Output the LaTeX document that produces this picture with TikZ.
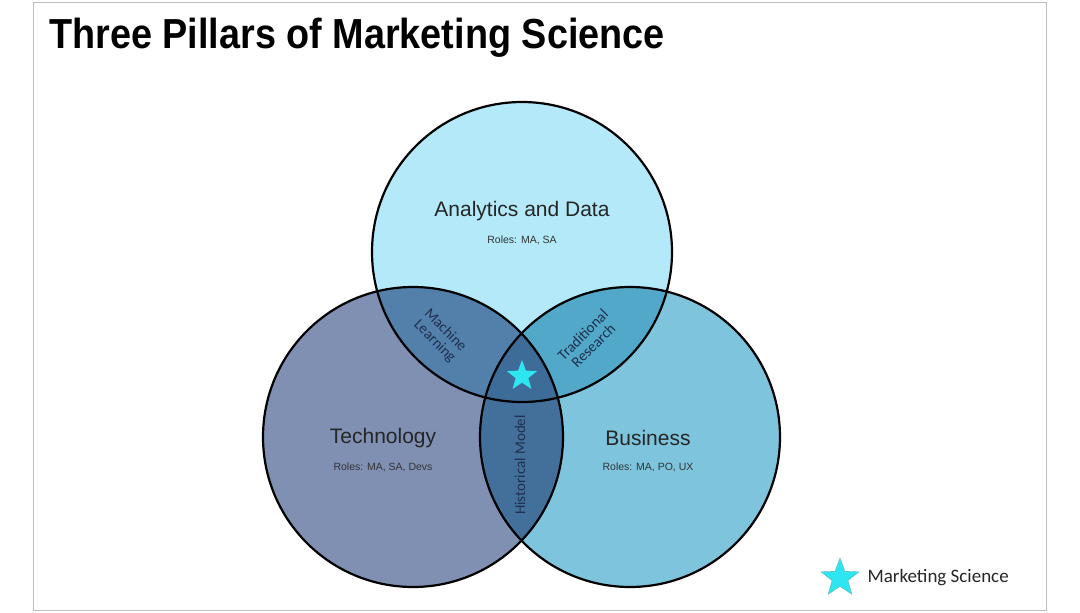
\documentclass[tikz,border=0pt]{standalone}
\usepackage{fontspec}
\setmainfont{Liberation Sans}
\newfontfamily\carlitofam{Carlito}
\usetikzlibrary{shapes.geometric}
\definecolor{cA}{HTML}{B3E9F9}
\definecolor{cT}{HTML}{8090B3}
\definecolor{cB}{HTML}{7EC4DD}
\definecolor{cAT}{HTML}{5380AB}
\definecolor{cAB}{HTML}{52A8C8}
\definecolor{cTB}{HTML}{43709B}
\definecolor{cC}{HTML}{3D6C98}
\definecolor{navy}{HTML}{1F2F4F}
\definecolor{starc}{HTML}{2EE6F0}
\tikzset{
 circ/.style={draw=black,line width=2.2pt},
 lbl/.style={font=\fontsize{21}{23}\selectfont, text=black!85},
 role/.style={font=\fontsize{10.5}{12}\selectfont, text=black!80},
 ov/.style={font=\carlitofam\fontsize{15}{15}\selectfont, text=navy, align=center},
}
\begin{document}
\begin{tikzpicture}[x=1pt,y=-1pt]
\useasboundingbox (0,0) rectangle (1080,613);
\fill[white] (0,0) rectangle (1080,613);
\draw[gray!50,line width=1pt] (33,2) rectangle (1046,610);
\node[anchor=west,font=\bfseries\fontsize{42}{44}\selectfont,xscale=0.9,transform shape] (title) at (46,38) {Three Pillars of Marketing Science};
\coordinate (A) at (522,252);
\coordinate (T) at (413,437);
\coordinate (B) at (630,437);
\fill[cA] (A) circle (150);
\fill[cT] (T) circle (150);
\fill[cB] (B) circle (150);
\begin{scope}\clip (A) circle (150); \fill[cAT] (T) circle (150); \fill[cAB] (B) circle (150);\end{scope}
\begin{scope}\clip (T) circle (150); \fill[cTB] (B) circle (150);
 \clip (B) circle (150); \fill[cC] (A) circle (150);\end{scope}
\draw[circ] (A) circle (150);
\draw[circ] (T) circle (150);
\draw[circ] (B) circle (150);
\node[lbl] (la) at (522,211) {Analytics and Data};
\node[role] (ra) at (522,240) {Roles: MA, SA};
\node[lbl] (lt) at (383,438) {Technology};
\node[role] (rt) at (383,467) {Roles: MA, SA, Devs};
\node[lbl] (lb) at (648,438) {Business};
\node[role] (rb) at (648,467) {Roles: MA, PO, UX};
\node[ov,rotate=-45] (ml) at (440,336) {Machine\\Learning};
\node[ov,rotate=45] (tr) at (588,340) {Traditional\\Research};
\node[ov,rotate=90] (hm) at (520,465) {Historical Model};
\node[star,star points=5,star point ratio=2.4,fill=starc,minimum size=32pt,inner sep=0pt] (st) at (522,376) {};
\node[star,star points=5,star point ratio=2.4,fill=starc,draw=teal!60,line width=0.4pt,minimum size=40pt,inner sep=0pt] (ls) at (840,578) {};
\node[anchor=west,font=\carlitofam\fontsize{19}{20}\selectfont,text=black!85] (lt2) at (864,578) {Marketing Science};
\end{tikzpicture}
\end{document}
